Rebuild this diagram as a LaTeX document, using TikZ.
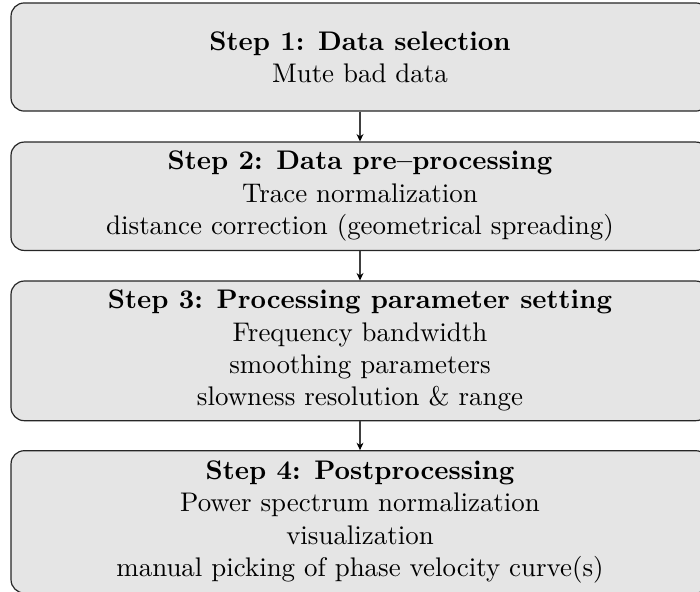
\documentclass[tikz,border=0pt]{standalone}
\usetikzlibrary{arrows.meta}
\tikzset{
  stepbox/.style={draw=black!85, line width=0.45pt, fill=black!10, rounded corners=5pt,
    minimum width=263.4pt, align=center, inner sep=0pt,
    font=\fontsize{10.16}{12.2}\selectfont},
  flow/.style={draw=black!75, line width=0.4pt, -{Stealth[length=2.8pt,width=2.6pt,black]}}
}
\begin{document}
\begin{tikzpicture}[x=0.3774pt, y=-0.3774pt]
\useasboundingbox (0,0) rectangle (700,591);
\node[stepbox, minimum height=40.8pt] (b1) at (360,57)
  {\textbf{Step 1: Data selection}\\ Mute bad data};
\node[stepbox, minimum height=40.9pt] (b2) at (360,196.25)
  {\textbf{Step 2: Data pre--processing}\\ Trace normalization\\ distance correction (geometrical spreading)};
\node[stepbox, minimum height=52.7pt] (b3) at (360,350.85)
  {\textbf{Step 3: Processing parameter setting}\\ Frequency bandwidth\\ smoothing parameters\\ slowness resolution \& range};
\node[stepbox, minimum height=53.7pt] (b4) at (360,521.85)
  {\textbf{Step 4: Postprocessing}\\ Power spectrum normalization\\ visualization\\ manual picking of phase velocity curve(s)};
\draw[flow] (b1.south) -- (b2.north);
\draw[flow] (b2.south) -- (b3.north);
\draw[flow] (b3.south) -- (b4.north);
\end{tikzpicture}
\end{document}
